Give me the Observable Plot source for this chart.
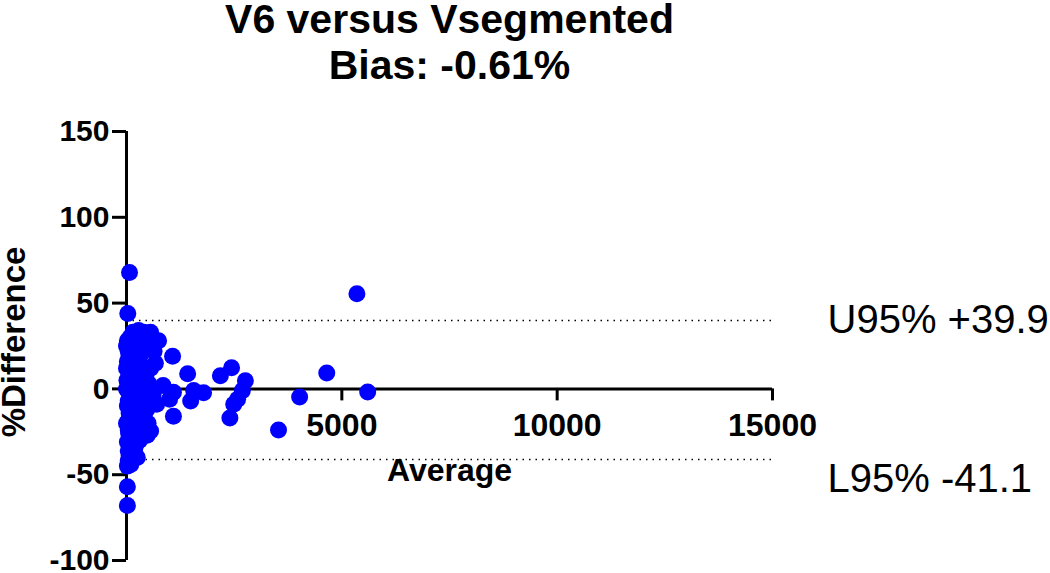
<!DOCTYPE html>
<html><head><meta charset="utf-8">
<script src="https://cdn.jsdelivr.net/npm/d3@7"></script>
<script src="https://cdn.jsdelivr.net/npm/@observablehq/plot@0.6"></script>
<style>body{margin:0;background:#fff}</style>
</head><body><div id="chart"></div>
<script>
const titleLines = ["V6 versus Vsegmented", "Bias: -0.61%"];
const xLabel = "Average";
const yLabel = "%Difference";
const xTicks = [5000, 10000, 15000];
const yTicks = [-100, -50, 0, 50, 100, 150];
const upperLimit = 39.9;
const lowerLimit = -41.1;
const upperLabel = "U95% +39.9";
const lowerLabel = "L95% -41.1";

// Bland-Altman points (average, % difference)
const average = [
  70, 30, 5350, 4650, 5600, 4020, 3530, 2440, 2180, 2760, 2690, 2580, 2490, 2400,
  1790, 1560, 1490, 1420, 1090, 1070, 1090, 745, 670, 560, 560, 280, 40, 100, 20, 20,
  850, 1000, 400, 150,
  20, 80, 150, 220, 350, 40, 110, 190, 300, 420,
  20, 90, 160, 260, 380, 50, 130, 210, 300, 460,
  10, 80, 150, 240, 330, 30, 110, 190, 270, 400, 520, 620,
  40, 120, 200, 290, 60, 140, 230, 350, 470, 700,
  30, 100, 180, 270, 50, 130, 210, 20, 90, 160, 60, 130, 20,
  0, 60, 120, 240, 330, 100, 180, 270, 360, 440, 20, 90, 170, 250, 320, 410,
  40, 120, 200, 40, 500, 580, 560, 640, 480, 300, 0, 0, 0, 250
];
const difference = [
  67.8, 44, 55.5, 9.3, -1.8, -4.7, -24, 12.3, 7.6, 4.7, -1, -6, -9, -17,
  -2.3, -1, -7, 8.8, -16, 19, -2, 28, 15, 33, -24.5, 34, -36, -44, -57, -68,
  2, -6, 33, 33,
  28, 30, 27, 31, 29, 22, 24, 21, 23, 26,
  16, 18, 14, 17, 13, 10, 11, 8, 12, 9,
  5, 3, 6, 2, 5, -1, 0, -2, -4, -1, 3, -3,
  -7, -9, -6, -11, -14, -12, -16, -8, -12, -9,
  -19, -21, -18, -22, -26, -28, -25, -31, -33, -30, -39, -41, -45,
  25, 19, 20, 25, 20, 8, 4, 9, 0, -4, -10, -16, -10, -13, -18, -15,
  -24, -36, -34, -42, -20, -8, 12, 22, -27, -30, 0, -20, 12, -40
];
const points = average.map((a, i) => ({average: a, difference: difference[i]}));

const chart = Plot.plot({
  width: 1050,
  height: 573,
  marginLeft: 126,
  marginRight: 278,
  marginTop: 131,
  marginBottom: 13,
  x: {domain: [0, 15000], axis: null},
  y: {domain: [-100, 150], axis: null},
  style: {fontFamily: "'Liberation Sans', Arial, sans-serif", background: "white", overflow: "visible", color: "black"},
  marks: [
    Plot.ruleY([upperLimit, lowerLimit], {y: d => d, x1: 0, x2: 15000, stroke: "black", strokeWidth: 1.5, strokeDasharray: "1.5,5"}),
    Plot.ruleY([0], {x1: 0, x2: 15000, stroke: "black", strokeWidth: 3}),
    Plot.ruleX(xTicks, {x: d => d, y1: 0, y2: 0, insetBottom: -12, stroke: "black", strokeWidth: 3}),
    Plot.text(xTicks, {x: d => d, y: 0, dy: 37, text: d => String(d), fontSize: 32, fontWeight: "bold", fill: "black"}),
    Plot.ruleX([0], {stroke: "black", strokeWidth: 3}),
    Plot.ruleY(yTicks, {y: d => d, x1: 0, x2: 0, insetLeft: -14, stroke: "black", strokeWidth: 3}),
    Plot.text(yTicks, {x: 0, y: d => d, dx: -17, text: d => String(d), textAnchor: "end", fontSize: 30, fontWeight: "bold", fill: "black"}),
    Plot.dot(points, {x: "average", y: "difference", r: 8.5, fill: "#0000ff", stroke: "none"}),
    Plot.text([upperLabel], {x: 15000, y: upperLimit, dx: 55, text: d => d, textAnchor: "start", fontSize: 40, fill: "black"}),
    Plot.text([lowerLabel], {x: 15000, y: lowerLimit, dx: 55, dy: 20, text: d => d, textAnchor: "start", fontSize: 40, fill: "black"}),
    Plot.text([xLabel], {frameAnchor: "middle", y: 0, dy: 82, text: d => d, fontSize: 32, fontWeight: "bold", fill: "black"}),
    Plot.text([yLabel], {frameAnchor: "left", textAnchor: "middle", dx: -112, dy: -4, rotate: -90, text: d => d, fontSize: 33, fontWeight: "bold", fill: "black"}),
    Plot.text([titleLines[0]], {frameAnchor: "top", dy: -99, lineAnchor: "bottom", text: d => d, fontSize: 41, fontWeight: "bold", fill: "black"}),
    Plot.text([titleLines[1]], {frameAnchor: "top", dy: -53, lineAnchor: "bottom", text: d => d, fontSize: 41, fontWeight: "bold", fill: "black"})
  ]
});
document.getElementById("chart").append(chart);
</script>
</body></html>
